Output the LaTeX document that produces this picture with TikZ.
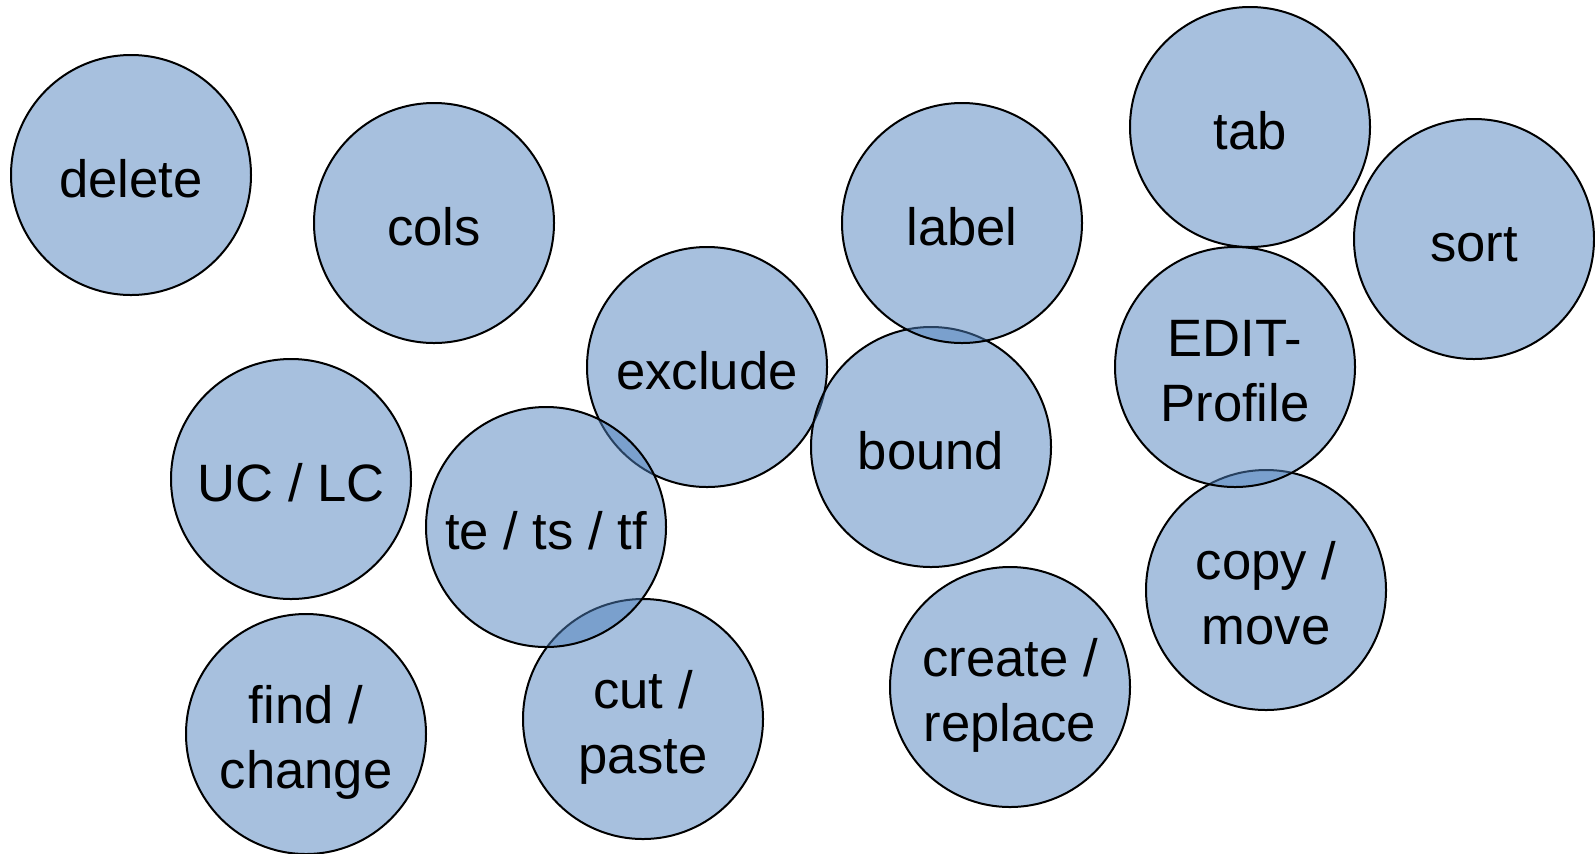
\documentclass[tikz,border=0pt]{standalone}
\usepackage{fontspec}
\setmainfont{Liberation Sans}
\usepackage{xcolor}
\usetikzlibrary{positioning}
\definecolor{bubblefill}{RGB}{79,129,189}
\newcommand{\bubspacer}{\rule[-5pt]{0pt}{32pt}}

\begin{document}
\begin{tikzpicture}[
    x=0.5pt, y=-0.5pt,
    bubble/.style={
        circle, draw=black, line width=1pt,
        fill=bubblefill, fill opacity=0.5, text opacity=1,
        minimum size=120pt, inner sep=0, align=center,
        font=\fontsize{26.3}{32.5}\selectfont}]
\useasboundingbox (0,0) rectangle (1595,853);

\node[bubble] (delete)  at (131,175) {delete\bubspacer};
\node[bubble] (cols)    at (434,223) {cols\bubspacer};
\node[bubble] (exclude) at (707,367) {exclude\bubspacer};
\node[bubble] (bound)   at (931,447) {bound\bubspacer};
\node[bubble] (label)   at (962,223) {label\bubspacer};
\node[bubble] (tab)     at (1250,127) {tab\bubspacer};
\node[bubble] (sort)    at (1474,239) {sort\bubspacer};
\node[bubble] (copy)    at (1266,590) {copy /\bubspacer\\move\bubspacer};
\node[bubble] (edit)    at (1235,367) {EDIT-\bubspacer\\Profile\bubspacer};
\node[bubble] (uclc)    at (291,479) {UC / LC\bubspacer};
\node[bubble] (cut)     at (643,719) {cut /\bubspacer\\paste\bubspacer};
\node[bubble] (tets)    at (546,527) {te / ts / tf\bubspacer};
\node[bubble] (create)  at (1010,687) {create /\bubspacer\\replace\bubspacer};
\node[bubble] (find)    at (306,734) {find /\bubspacer\\change\bubspacer};

\end{tikzpicture}
\end{document}
